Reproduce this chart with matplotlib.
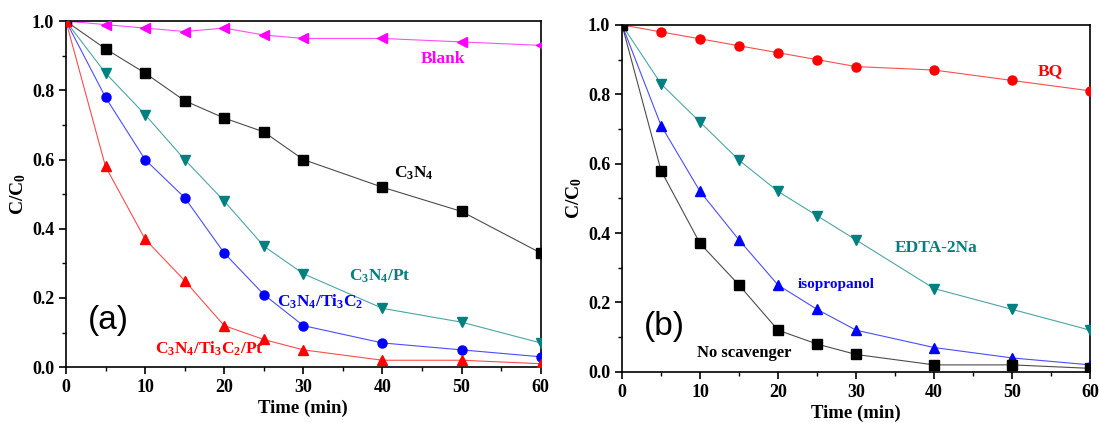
import matplotlib
matplotlib.use('Agg')
import matplotlib.pyplot as plt
from matplotlib.ticker import MultipleLocator

# Data
time = [0, 5, 10, 15, 20, 25, 30, 40, 50, 60]

# panel (a)
blank = [1.0, 0.99, 0.98, 0.97, 0.98, 0.96, 0.95, 0.95, 0.94, 0.93]
c3n4 = [1.0, 0.92, 0.85, 0.77, 0.72, 0.68, 0.60, 0.52, 0.45, 0.33]
c3n4_pt = [1.0, 0.85, 0.73, 0.60, 0.48, 0.35, 0.27, 0.17, 0.13, 0.07]
c3n4_ti3c2 = [1.0, 0.78, 0.60, 0.49, 0.33, 0.21, 0.12, 0.07, 0.05, 0.03]
c3n4_ti3c2_pt = [1.0, 0.58, 0.37, 0.25, 0.12, 0.08, 0.05, 0.02, 0.02, 0.01]

# panel (b)
bq = [1.0, 0.98, 0.96, 0.94, 0.92, 0.90, 0.88, 0.87, 0.84, 0.81]
edta = [1.0, 0.83, 0.72, 0.61, 0.52, 0.45, 0.38, 0.24, 0.18, 0.12]
isoprop = [1.0, 0.71, 0.52, 0.38, 0.25, 0.18, 0.12, 0.07, 0.04, 0.02]
no_scav = [1.0, 0.58, 0.37, 0.25, 0.12, 0.08, 0.05, 0.02, 0.02, 0.01]

plt.rcParams['font.family'] = ['Liberation Serif', 'DejaVu Serif']
plt.rcParams['font.weight'] = 'bold'
plt.rcParams['mathtext.default'] = 'regular'

MAGENTA = '#ff00ff'
TEAL = '#008080'
BLUE = '#0000ff'
RED = '#ff0000'
BLACK = '#000000'


def series(ax, y, color, marker):
    ax.plot(time, y, '-', color=color, lw=0.8, alpha=0.7, zorder=2)
    ax.plot(time, y, marker, color=color, ms=6.5, mec=color, lw=0, zorder=3)


def style_axes(ax):
    ax.set_xlim(0, 60)
    ax.set_ylim(0, 1.0)
    ax.xaxis.set_major_locator(MultipleLocator(10))
    ax.xaxis.set_minor_locator(MultipleLocator(5))
    ax.yaxis.set_major_locator(MultipleLocator(0.2))
    ax.yaxis.set_minor_locator(MultipleLocator(0.1))
    ax.yaxis.set_major_formatter(matplotlib.ticker.FormatStrFormatter('%.1f'))
    ax.tick_params(which='major', direction='out', length=5, width=1.2,
                   labelsize=13)
    ax.tick_params(which='minor', direction='out', length=3, width=1.0)
    for s in ax.spines.values():
        s.set_linewidth(1.2)
    ax.set_xlabel('Time (min)', fontsize=13.5, fontweight='bold', labelpad=3)
    ax.set_ylabel('C/C$_0$', fontsize=14, fontweight='bold', labelpad=3)


fig = plt.figure(figsize=(10.99, 4.23), dpi=100)
ax1 = fig.add_axes([0.060, 0.132, 0.432, 0.818])
ax2 = fig.add_axes([0.566, 0.121, 0.426, 0.820])

series(ax1, blank, MAGENTA, '<')
series(ax1, c3n4, BLACK, 's')
series(ax1, c3n4_pt, TEAL, 'v')
series(ax1, c3n4_ti3c2, BLUE, 'o')
series(ax1, c3n4_ti3c2_pt, RED, '^')
style_axes(ax1)

lab = dict(ha='center', va='center', fontsize=12.5, fontweight='bold')
ax1.text(47.7, 0.89, 'Blank', color=MAGENTA, **lab)
ax1.text(43.9, 0.56, 'C$_3$N$_4$', color=BLACK, **lab)
ax1.text(39.7, 0.263, 'C$_3$N$_4$/Pt', color=TEAL, **lab)
ax1.text(32.1, 0.19, 'C$_3$N$_4$/Ti$_3$C$_2$', color=BLUE, **lab)
ax1.text(18.1, 0.054, 'C$_3$N$_4$/Ti$_3$C$_2$/Pt', color=RED, **lab)
ax1.text(5.3, 0.134, '(a)', ha='center', va='center', fontsize=24,
         fontweight='normal', family=['Liberation Sans', 'DejaVu Sans'])

series(ax2, bq, RED, 'o')
series(ax2, edta, TEAL, 'v')
series(ax2, isoprop, BLUE, '^')
series(ax2, no_scav, BLACK, 's')
style_axes(ax2)

ax2.text(54.9, 0.866, 'BQ', color=RED, **lab)
ax2.text(40.3, 0.356, 'EDTA-2Na', color=TEAL, **lab)
ax2.text(27.5, 0.253, 'isopropanol', color=BLUE, ha='center', va='center',
         fontsize=11, fontweight='bold')
ax2.text(15.6, 0.055, 'No scavenger', color=BLACK, ha='center', va='center',
         fontsize=12, fontweight='bold')
ax2.text(5.4, 0.131, '(b)', ha='center', va='center', fontsize=24,
         fontweight='normal', family=['Liberation Sans', 'DejaVu Sans'])

fig.savefig('out.png', dpi=100)
